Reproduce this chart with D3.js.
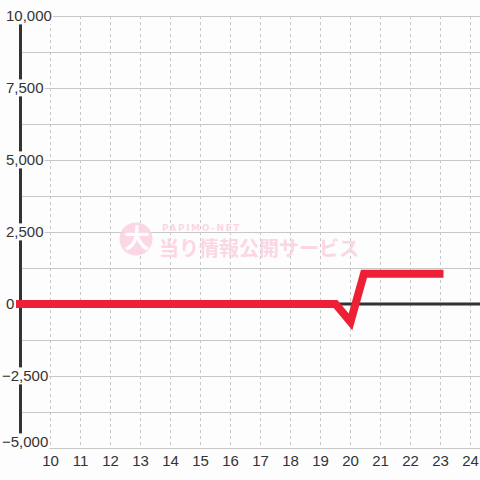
<!DOCTYPE html>
<html>
<head>
<meta charset="utf-8">
<script src="https://cdn.jsdelivr.net/npm/d3@7"></script>
<style>
  html, body { margin: 0; padding: 0; background: #fdfdfd; }
  svg { display: block; }
</style>
</head>
<body>
<div id="chart"></div>
<script>
// Data
const hourTicks = [10, 11, 12, 13, 14, 15, 16, 17, 18, 19, 20, 21, 22, 23, 24];
const valueTicks = [10000, 7500, 5000, 2500, 0, -2500, -5000];
const gridValues = [10000, 8750, 7500, 6250, 5000, 3750, 2500, 1250, 0, -1250, -2500, -3750, -5000];
const hours = [8.85, 19.5, 20, 20.45, 23.1];
const values = [0, 0, -620, 1050, 1050];

const width = 480, height = 480;
const bg = "#fdfdfd";

const svg = d3.select("#chart").append("svg")
    .attr("width", width)
    .attr("height", height);

svg.append("rect")
    .attr("width", width)
    .attr("height", height)
    .attr("fill", bg);

// Scales
const x = d3.scaleLinear().domain([9, 24]).range([20.5, 470.5]);
const y = d3.scaleLinear().domain([-5000, 10000]).range([448, 16]);

// Horizontal grid
svg.append("g")
    .selectAll("line")
    .data(gridValues)
    .join("line")
    .attr("x1", x(9))
    .attr("x2", width)
    .attr("y1", d => Math.round(y(d)) + 0.5)
    .attr("y2", d => Math.round(y(d)) + 0.5)
    .attr("stroke", "#c8c8c8")
    .attr("stroke-width", 1);

// Vertical dashed grid
svg.append("g")
    .selectAll("line")
    .data(hourTicks)
    .join("line")
    .attr("x1", d => x(d))
    .attr("x2", d => x(d))
    .attr("y1", y(10000))
    .attr("y2", y(-5000))
    .attr("stroke", "#c8c8c8")
    .attr("stroke-width", 1)
    .attr("stroke-dasharray", "3,3");

// Watermark
const wm = svg.append("g").attr("opacity", 0.9);
wm.append("circle")
    .attr("cx", 136)
    .attr("cy", 239)
    .attr("r", 16.5)
    .attr("fill", "#fbd3e3");
wm.append("text")
    .attr("x", 137)
    .attr("y", 248)
    .attr("text-anchor", "middle")
    .attr("fill", "#fdfdfd")
    .style("font-family", "'Noto Sans CJK JP', sans-serif")
    .style("font-weight", "bold")
    .style("font-size", "26px")
    .text("大");
wm.append("text")
    .attr("x", 162)
    .attr("y", 231)
    .attr("fill", "#fbd3e3")
    .style("font-family", "'DejaVu Sans', sans-serif")
    .style("font-weight", "bold")
    .style("font-size", "9px")
    .style("letter-spacing", "1.6px")
    .text("PAPIMO-NET");
wm.append("text")
    .attr("x", 159)
    .attr("y", 256)
    .attr("fill", "#fbd3e3")
    .style("font-family", "'Noto Sans CJK JP', sans-serif")
    .style("font-weight", "bold")
    .style("font-size", "20px")
    .text("当り情報公開サービス");

// Zero line
svg.append("line")
    .attr("x1", x(9))
    .attr("x2", width)
    .attr("y1", y(0))
    .attr("y2", y(0))
    .attr("stroke", "#333")
    .attr("stroke-width", 3);

// Y axis line
svg.append("line")
    .attr("x1", x(9))
    .attr("x2", x(9))
    .attr("y1", y(10000))
    .attr("y2", y(-5000))
    .attr("stroke", "#333")
    .attr("stroke-width", 3);

// Series line
const line = d3.line()
    .x((d, i) => x(hours[i]))
    .y(d => y(d));

svg.append("path")
    .datum(values)
    .attr("d", line)
    .attr("fill", "none")
    .attr("stroke", "#ee2035")
    .attr("stroke-width", 8)
    .attr("stroke-linejoin", "miter")
    .attr("stroke-linecap", "butt");

// Y tick labels with background boxes
const fmt = d3.format(",");
const yLab = svg.append("g")
    .selectAll("g")
    .data(valueTicks)
    .join("g");

yLab.append("text")
    .attr("x", d => d < 0 ? 2 : 6)
    .attr("y", (d, i) => y(d) - (i === valueTicks.length - 1 ? 6 : 0))
    .attr("dy", "0.36em")
    .attr("fill", "#333")
    .style("font-family", "'Liberation Sans', Arial, sans-serif")
    .style("font-size", "15px")
    .text(d => fmt(d));

yLab.each(function() {
    const t = d3.select(this).select("text");
    const b = t.node().getBBox();
    d3.select(this).insert("rect", "text")
        .attr("x", b.x - 1)
        .attr("y", b.y)
        .attr("width", b.width + 2)
        .attr("height", b.height)
        .attr("fill", bg);
});

// X tick labels
svg.append("g")
    .selectAll("text")
    .data(hourTicks)
    .join("text")
    .attr("x", d => x(d))
    .attr("y", 466)
    .attr("text-anchor", "middle")
    .attr("fill", "#333")
    .style("font-family", "'Liberation Sans', Arial, sans-serif")
    .style("font-size", "15px")
    .text(d => d);
</script>
</body>
</html>
